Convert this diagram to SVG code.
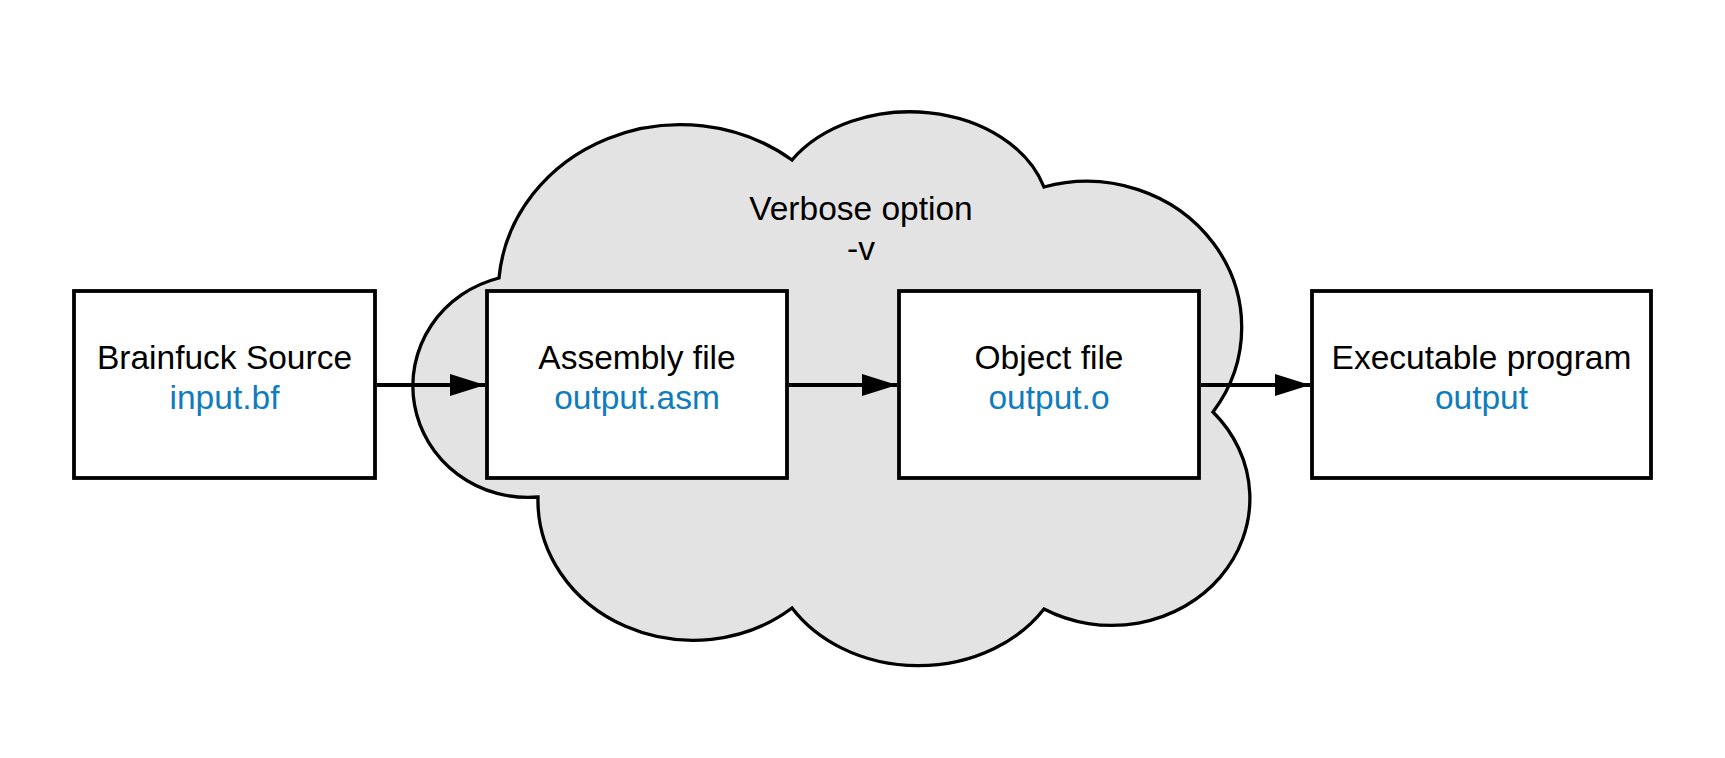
<svg xmlns="http://www.w3.org/2000/svg" width="1725" height="758" viewBox="0 0 1725 758">
  <style>
    .box { fill: #ffffff; stroke: #000000; stroke-width: 3.8; }
    .cloud { fill: #e3e3e3; stroke: #000000; stroke-width: 3.3; stroke-linejoin: miter; }
    .t { font-family: "Liberation Sans", Arial, sans-serif; font-size: 33.5px; text-anchor: middle; fill: #000000; }
    .sub { fill: #0f7cbd; }
    .edge { stroke: #000000; stroke-width: 3.8; fill: none; marker-end: url(#arrow); }
  </style>
  <defs>
    <marker id="arrow" markerUnits="userSpaceOnUse" markerWidth="36" markerHeight="24" refX="35" refY="11" orient="auto">
      <path d="M0,0 L35,11 L0,22 Z" fill="#000000"/>
    </marker>
  </defs>
  <rect width="1725" height="758" fill="#ffffff"/>

  <g id="verbose-cloud">
    <path class="cloud" d="M499,278 A182,168 0 0 1 792,160 A140,105 0 0 1 1044,187 A155,146 0 0 1 1213,412 A138,127 0 0 1 1044,609 A150,125 0 0 1 792,608 A155,140 0 0 1 538,497 A115,111.5 0 0 1 499,278 Z"/>
    <text class="t" x="861" y="220">Verbose option</text>
    <text class="t" x="861" y="260">-v</text>
  </g>

  <g id="node-source">
    <rect class="box" x="74" y="291" width="301" height="187"/>
    <text class="t" x="224.5" y="369">Brainfuck Source</text>
    <text class="t sub" x="224.5" y="409">input.bf</text>
  </g>

  <g id="node-assembly">
    <rect class="box" x="487" y="291" width="300" height="187"/>
    <text class="t" x="637" y="369">Assembly file</text>
    <text class="t sub" x="637" y="409">output.asm</text>
  </g>

  <g id="node-object">
    <rect class="box" x="899" y="291" width="300" height="187"/>
    <text class="t" x="1049" y="369">Object file</text>
    <text class="t sub" x="1049" y="409">output.o</text>
  </g>

  <g id="node-executable">
    <rect class="box" x="1312" y="291" width="339" height="187"/>
    <text class="t" x="1481.5" y="369">Executable program</text>
    <text class="t sub" x="1481.5" y="409">output</text>
  </g>

  <g id="connectors">
    <line class="edge" x1="377" y1="385" x2="485" y2="385"/>
    <line class="edge" x1="789" y1="385" x2="897" y2="385"/>
    <line class="edge" x1="1201" y1="385" x2="1310" y2="385"/>
  </g>
</svg>
